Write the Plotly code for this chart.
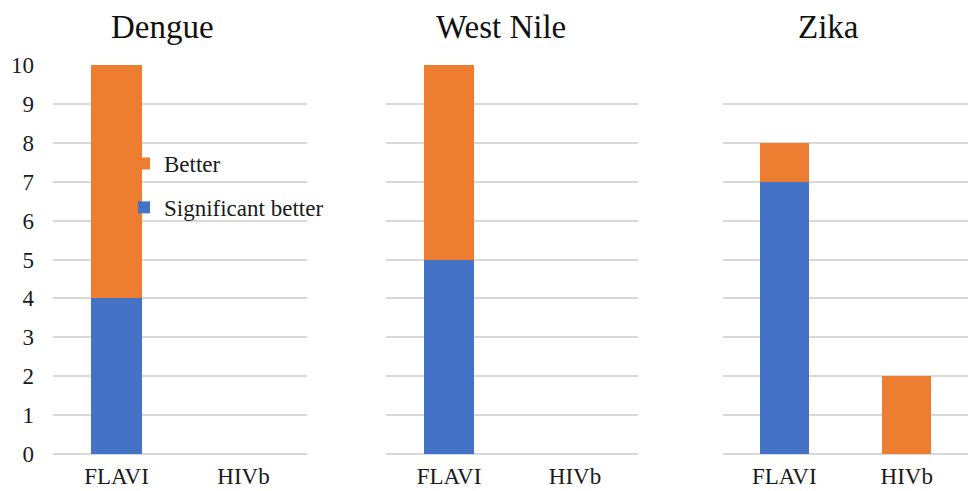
import plotly.graph_objects as go
from plotly.subplots import make_subplots

# Counts per virus panel and method
viruses = ["Dengue", "West Nile", "Zika"]
methods = ["FLAVI", "HIVb"]
significant_better = {
    "Dengue": [4, 0],
    "West Nile": [5, 0],
    "Zika": [7, 0],
}
better = {
    "Dengue": [6, 0],
    "West Nile": [5, 0],
    "Zika": [1, 2],
}
y_ticks = list(range(0, 11))

BLUE = "#4472C4"
ORANGE = "#ED7D31"
GRID = "#D9D9D9"
SERIF = "Liberation Serif, Times New Roman, serif"

W, H = 968, 491

fig = make_subplots(rows=1, cols=3, shared_yaxes=False)

for i, virus in enumerate(viruses, start=1):
    fig.add_trace(
        go.Bar(
            x=methods, y=significant_better[virus], name="Significant better",
            marker=dict(color=BLUE, line=dict(width=0)),
            legendgroup="sig", legendrank=2, showlegend=(i == 1),
        ),
        row=1, col=i,
    )
    fig.add_trace(
        go.Bar(
            x=methods, y=better[virus], name="Better",
            marker=dict(color=ORANGE, line=dict(width=0)),
            legendgroup="better", legendrank=1, showlegend=(i == 1),
        ),
        row=1, col=i,
    )

# plot-area extents in pixels
x_domains = [(53, 307), (386, 638), (723, 968)]
y_bottom, y_top = 454, 65

for i, (x0, x1) in enumerate(x_domains, start=1):
    fig.update_xaxes(
        domain=[x0 / W, x1 / W], automargin=False,
        showgrid=False, zeroline=False, showline=False, ticks="",
        tickfont=dict(family=SERIF, size=23, color="#1a1a1a"),
        ticklabelstandoff=6,
        row=1, col=i,
    )
    fig.update_yaxes(
        domain=[(H - y_bottom) / H, (H - y_top) / H], automargin=False,
        range=[0, 10], tickvals=y_ticks,
        showgrid=True, gridcolor=GRID, gridwidth=1.5,
        zeroline=True, zerolinecolor=GRID, zerolinewidth=1.5,
        showline=False, ticks="",
        showticklabels=(i == 1),
        tickfont=dict(family=SERIF, size=23, color="#1a1a1a"),
        ticklabelstandoff=18,
        row=1, col=i,
    )

title_x = [162, 501, 828]
for virus, tx in zip(viruses, title_x):
    fig.add_annotation(
        text=virus, x=tx / W, y=(H - 27) / H, xref="paper", yref="paper",
        showarrow=False, xanchor="center", yanchor="middle",
        font=dict(family=SERIF, size=33, color="#111"),
    )

fig.update_layout(
    width=W, height=H,
    margin=dict(l=0, r=0, t=0, b=0, autoexpand=False),
    barmode="stack", bargap=0.6,
    paper_bgcolor="white", plot_bgcolor="white",
    legend=dict(
        x=124 / W, y=(H - 142) / H, xanchor="left", yanchor="top",
        traceorder="grouped", tracegroupgap=11,
        font=dict(family=SERIF, size=23, color="#1a1a1a"),
        bgcolor="rgba(0,0,0,0)", itemwidth=30,
    ),
)

fig.write_html("out.html")
